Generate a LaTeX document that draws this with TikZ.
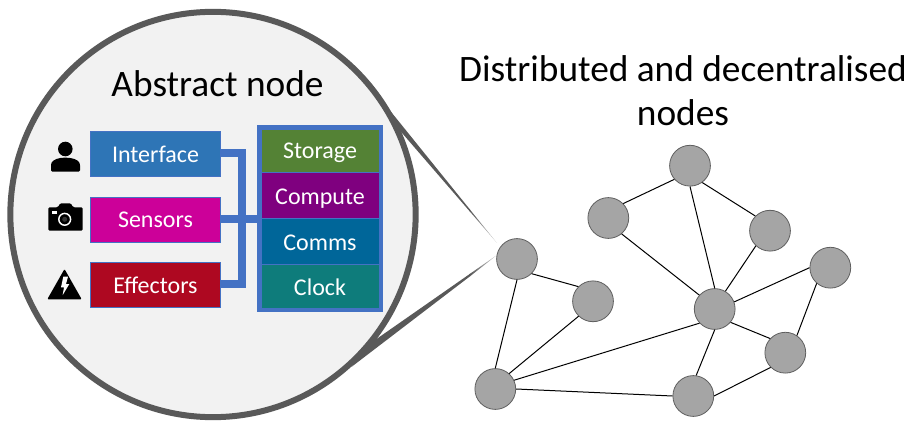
\documentclass[tikz,border=0pt]{standalone}
\usepackage{fontspec}
\setmainfont{Carlito}
\definecolor{ringgray}{HTML}{595959}
\definecolor{lensfill}{HTML}{F2F2F2}
\definecolor{linkblue}{HTML}{4472C4}
\definecolor{nodegray}{HTML}{A5A5A5}
\definecolor{nodeedge}{HTML}{5F5F5F}
\definecolor{cInterface}{HTML}{2E75B6}
\definecolor{cSensors}{HTML}{CC0099}
\definecolor{cEffectors}{HTML}{AE0821}
\definecolor{cStorage}{HTML}{548235}
\definecolor{cCompute}{HTML}{7F007F}
\definecolor{cComms}{HTML}{006699}
\definecolor{cClock}{HTML}{0E7C7B}
\tikzset{
  x=0.75pt,y=-0.75pt,
  netnode/.style={circle,draw=nodeedge,fill=nodegray,line width=0.6pt,minimum size=30.6pt,inner sep=0pt},
  netlink/.style={draw=black,line width=0.75pt},
  leftbox/.style={draw=linkblue,line width=0.75pt,minimum width=98.2pt,minimum height=33.9pt,inner sep=0pt,text=white,font=\fontsize{18}{20}\selectfont},
  rightbox/.style={draw=linkblue,line width=0.5pt,minimum width=88.5pt,inner sep=0pt,text=white,text height=17.2pt,text depth=3pt,font=\fontsize{18}{20}\selectfont},
  bus/.style={draw=linkblue,line width=6pt},
  bigtitle/.style={font=\fontsize{28}{33.2}\selectfont,align=center,text=black,inner sep=0pt},
}
\begin{document}
\begin{tikzpicture}
\useasboundingbox (0,0) rectangle (920,438);
% callout
\fill[ringgray] (375,92) -- (470,209.6) -- (470,211.7) -- (396,126) -- cycle;
\shade[left color=ringgray,right color=ringgray!25!white] (469.5,209) -- (497,243) -- (469.5,211.1) -- cycle;
\fill[ringgray] (352,366.5) -- (470,276.3) -- (470,273.8) -- (360,350.5) -- cycle;
\shade[left color=ringgray,right color=ringgray!25!white] (469.5,274.1) -- (497,255) -- (469.5,276.7) -- cycle;
% lens
\node[circle,draw=ringgray,fill=lensfill,line width=4.5pt,minimum size=304pt,inner sep=0pt] (lens) at (213,214.5) {};
\node[bigtitle] (title) at (217.5,84) {Abstract node};
\node[bigtitle] (dist) at (683,91) {Distributed and decentralised\\nodes};
% container
\node[draw=linkblue,line width=3pt,minimum width=91.5pt,minimum height=137.25pt,inner sep=0pt] (stack) at (320,218.5) {};
\node[rightbox,fill=cStorage,minimum height=31.9pt,text height=15pt] (storage) at (320,150.7) {Storage};
\node[rightbox,fill=cCompute,minimum height=34.5pt] (compute) at (320,195) {Compute};
\node[rightbox,fill=cComms,minimum height=34.5pt] (comms) at (320,241) {Comms};
\node[rightbox,fill=cClock,minimum height=33pt] (clock) at (320,286) {Clock};
% left boxes
\node[leftbox,fill=cInterface] (interface) at (155.5,154) {Interface};
\node[leftbox,fill=cSensors] (sensors) at (155.5,219.7) {Sensors};
\node[leftbox,fill=cEffectors] (effectors) at (155.5,285) {Effectors};
% bus
\coordinate (bustop) at (242.3,153.5);
\coordinate (busbot) at (242.3,283.5);
\draw[bus] (interface.east |- bustop) -- (bustop) -- (busbot) -- (effectors.east |- busbot);
\draw[bus] (sensors.east |- 0,219.5) -- (stack.west |- 0,219.5);
% person icon
\fill[black] (65.3,149) circle (7.3);
\fill[black,rounded corners=1] (51,171.7) -- (51,164) .. controls (53,159.5) and (59,157.7) .. (65.3,157.7) .. controls (71.5,157.7) and (78,159.5) .. (80,164) -- (80,171.7) -- cycle;
% camera icon
\fill[black,rounded corners=1] (48.3,207.3) -- (58,207.3) -- (60,203.3) -- (71,203.3) -- (73,207.3) -- (82.7,207.3) -- (82.7,230.7) -- (48.3,230.7) -- cycle;
\fill[white] (51.7,210.7) rectangle (56.7,213.7);
\draw[white,line width=1.1pt] (64.7,219.3) circle (5.9);
\fill[black!80!white] (64.7,219.3) circle (2.5);
% warning icon
\fill[black,rounded corners=0.8] (64.5,269) -- (81.7,299.3) -- (47.3,299.3) -- cycle;
\fill[white] (63.3,276.7) -- (68,276.7) -- (66,284) -- (69.3,284) -- (62.7,295) -- (64,287.3) -- (61,287.3) -- cycle;
% network
\node[netnode] (a) at (517,259) {};
\node[netnode] (b) at (593,301.3) {};
\node[netnode] (c) at (495.3,389) {};
\node[netnode] (d) at (608.3,218) {};
\node[netnode] (e) at (690,165.7) {};
\node[netnode] (f) at (770,230.7) {};
\node[netnode] (g) at (830.3,267.7) {};
\node[netnode] (h) at (714.7,309) {};
\node[netnode] (i) at (785.3,352.7) {};
\node[netnode] (j) at (693.3,396) {};
\foreach \p/\pa/\q/\qa in {a/-45/b/135,a/-90/c/90,b/226/c/48,c/25/h/223,c/0/j/180,d/44/e/221,d/-50/h/138,e/-54/f/135,e/-90/h/90,f/227/h/59,g/180/h/20,g/229/i/56,h/-40/i/137,h/-90/j/82,i/225/j/0}{
  \draw[netlink] (\p.\pa) -- (\q.\qa);
}
\end{tikzpicture}
\end{document}
